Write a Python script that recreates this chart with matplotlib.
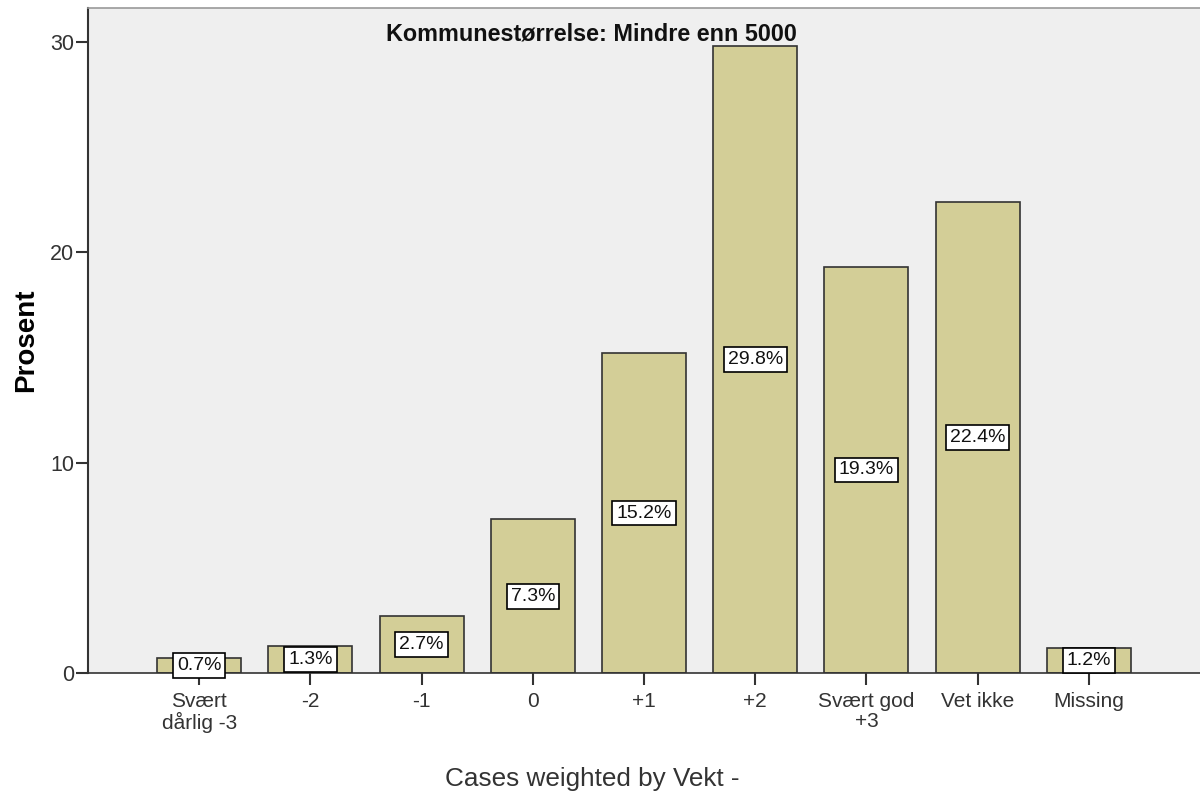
import matplotlib
matplotlib.use("Agg")
import matplotlib.pyplot as plt

categories = ["Svært\ndårlig -3", "-2", "-1", "0", "+1", "+2", "Svært god\n+3", "Vet ikke", "Missing"]
values = [0.7, 1.3, 2.7, 7.3, 15.2, 29.8, 19.3, 22.4, 1.2]
labels = ["0.7%", "1.3%", "2.7%", "7.3%", "15.2%", "29.8%", "19.3%", "22.4%", "1.2%"]
yticks = [0, 10, 20, 30]

plt.rcParams['font.family'] = ['Liberation Sans', 'DejaVu Sans']

fig = plt.figure(figsize=(12, 7.98), dpi=100)
ax = fig.add_axes([88/1200, 1-673/798, 1-88/1200, (673-8)/798])
ax.set_facecolor('#EFEFEF')

x = list(range(len(categories)))
ax.bar(x, values, width=0.755, color='#D3CE97', edgecolor='#333333', linewidth=1.2, zorder=2)
for xi, v, lab in zip(x, values, labels):
    ax.text(xi, v/2, lab, ha='center', va='center', fontsize=14, zorder=3, color='#111111',
            bbox=dict(boxstyle='square,pad=0.2', facecolor='white', edgecolor='black', linewidth=1.2))

ax.set_xlim(-1, 9)
ax.set_ylim(0, 31.6)
ax.set_xticks(x)
ax.set_xticklabels(categories, fontsize=15, color='#333333', linespacing=1.05)
ax.set_yticks(yticks)
ax.set_yticklabels([str(t) for t in yticks], fontsize=15.5, color='#333333')
ax.tick_params(axis='both', direction='out', length=8.5, width=1.5, color='#333333')
ax.tick_params(axis='x', pad=5.5)
ax.tick_params(axis='y', pad=1.5)

for side in ['top', 'left', 'bottom']:
    ax.spines[side].set_color('#333333')
ax.spines['left'].set_linewidth(1.5)
ax.spines['bottom'].set_linewidth(1.2)
ax.spines['top'].set_linewidth(1.2)
ax.spines['top'].set_color('#999999')
ax.spines['right'].set_visible(False)

ax.set_ylabel("Prosent", fontsize=20, fontweight='bold', labelpad=8)
ax.text(0.453, 0.961, "Kommunestørrelse: Mindre enn 5000", transform=ax.transAxes,
        ha='center', va='center', fontsize=16.8, fontweight='bold', color='#111111')
fig.text(592/1200, 1-779/798, "Cases weighted by Vekt -", ha='center', va='center', fontsize=18.8, color='#333333')

fig.savefig("out.png", dpi=100)
